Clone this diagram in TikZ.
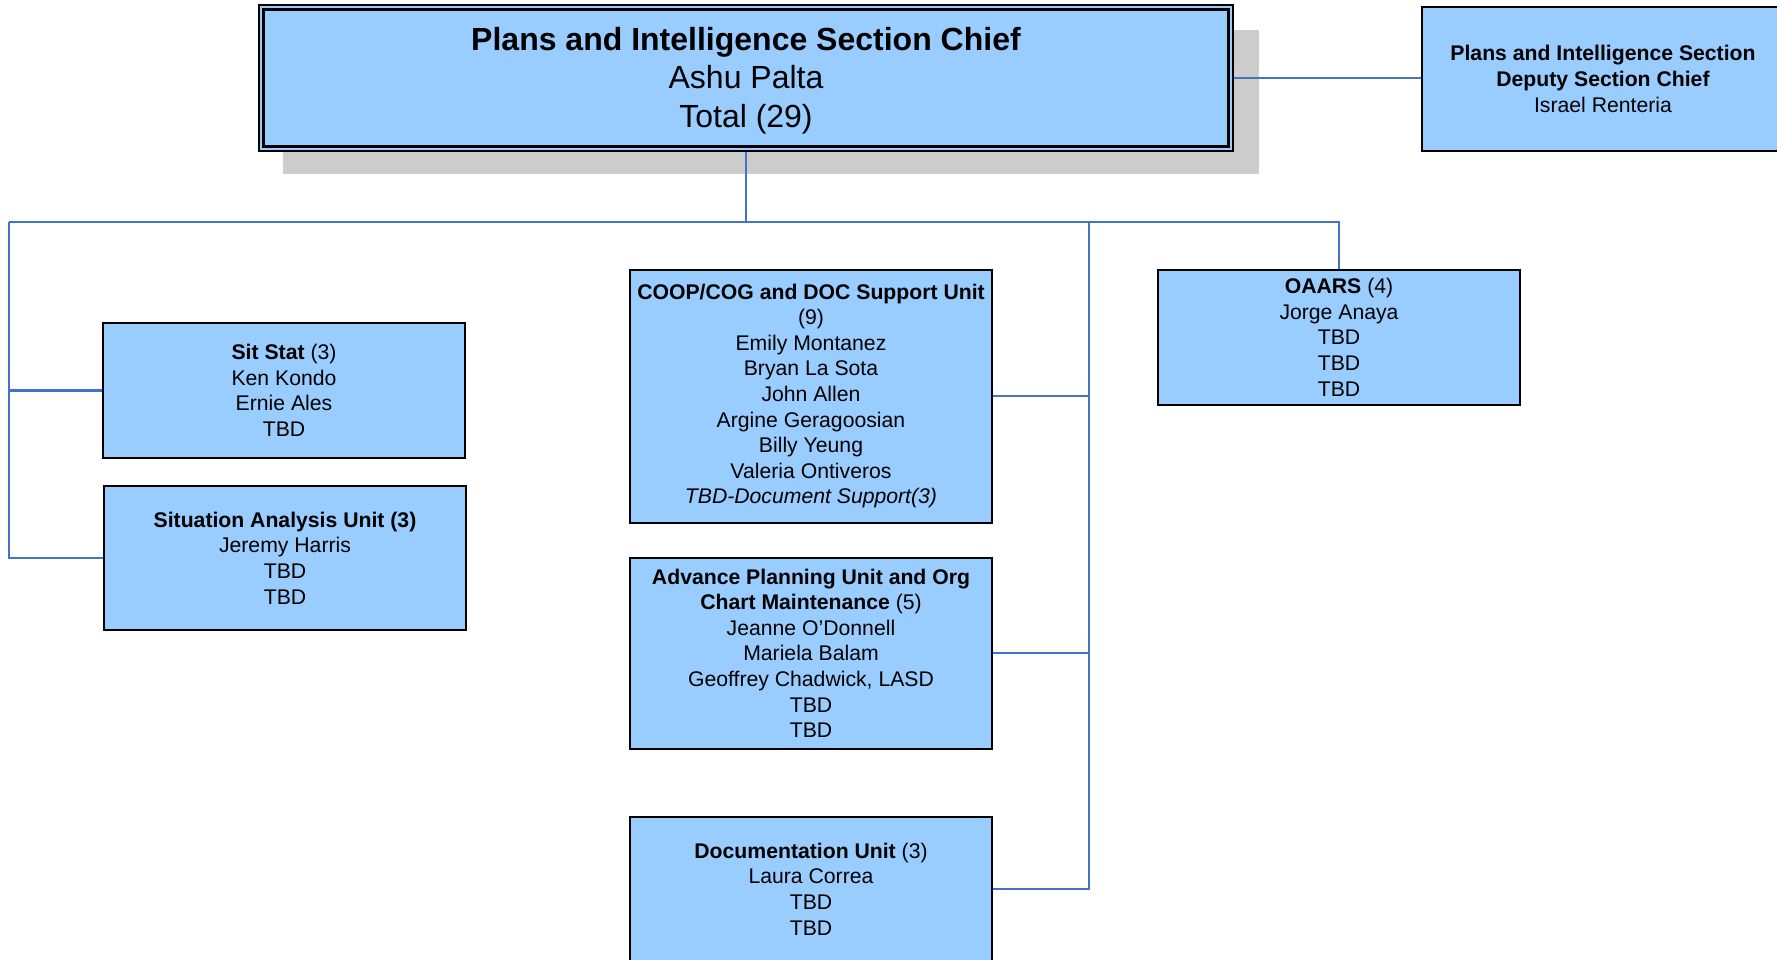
\documentclass[tikz,border=0pt]{standalone}
\usepackage{fontspec}
\setmainfont{Liberation Sans}
\definecolor{boxfill}{HTML}{99CCFF}
\definecolor{linkblue}{HTML}{4472C4}
\definecolor{shadowgray}{HTML}{CCCCCC}
\tikzset{
  unitbox/.style={draw=black, line width=2pt, fill=boxfill, inner sep=0pt,
    minimum width=362pt, align=center,
    font=\fontsize{21.2}{25.6}\selectfont},
  link/.style={draw=linkblue, line width=2.2pt},
}
\begin{document}
\begin{tikzpicture}[x=1pt, y=-1pt]
\useasboundingbox (0,0) rectangle (1777,959);
% shadow of chief box
\fill[shadowgray] (283,30) rectangle (1259,174);
% chief box
\node[draw=black, line width=1.2pt, fill=boxfill, inner sep=0pt,
      minimum width=974pt, minimum height=146pt] (chief) at (746,78) {};
\draw[line width=2.6pt] ([shift={(5,5)}]chief.north west) rectangle ([shift={(-5,-5)}]chief.south east);
\node[inner sep=0pt, align=center, font=\fontsize{32}{38.5}\selectfont] (chieftext) at (746,80.5)
  {\textbf{Plans and Intelligence Section Chief}\\Ashu Palta\\Total (29)};
% deputy
\node[unitbox, minimum height=144pt] (deputy) at (1603,79)
  {\textbf{Plans and Intelligence Section}\\\textbf{Deputy Section Chief}\\Israel Renteria};
% units
\node[unitbox, minimum height=135pt] (sitstat) at (284,390.5)
  {\textbf{Sit Stat} (3)\\Ken Kondo\\Ernie Ales\\TBD};
\node[unitbox, minimum height=144pt] (sau) at (285,558)
  {\textbf{Situation Analysis Unit (3)}\\Jeremy Harris\\TBD\\TBD};
\node[unitbox, minimum height=253pt] (coop) at (811,396)
  {\textbf{COOP/COG and DOC Support Unit}\\(9)\\Emily Montanez\\Bryan La Sota\\John Allen\\Argine Geragoosian\\Billy Yeung\\Valeria Ontiveros\\\textit{TBD-Document Support(3)}};
\node[unitbox, minimum height=191pt] (apu) at (811,653.3)
  {\textbf{Advance Planning Unit and Org}\\\textbf{Chart Maintenance} (5)\\Jeanne O’Donnell\\Mariela Balam\\Geoffrey Chadwick, LASD\\TBD\\TBD};
\node[unitbox, minimum height=144pt] (doc) at (811,889)
  {\textbf{Documentation Unit} (3)\\Laura Correa\\TBD\\TBD};
\node[unitbox, minimum height=135pt] (oaars) at (1339,337.3)
  {\textbf{OAARS} (4)\\Jorge Anaya\\TBD\\TBD\\TBD};
% connectors
\coordinate (busL) at (9,222);
\coordinate (trunk) at (1089,222);
\coordinate (busR) at (oaars.north |- busL);
\draw[link] (chief.east) -- (chief.east -| deputy.west);
\draw[link] (chief.south) -- (chief.south |- busL);
\draw[link] (busL) -- (busR) -- (oaars.north);
\draw[link] (busL) |- (sau.west);
\draw[link] (sitstat.west) -- (sitstat.west -| busL);
\draw[link] (trunk) |- (doc.east);
\draw[link] (coop.east) -- (coop.east -| trunk);
\draw[link] (apu.east) -- (apu.east -| trunk);
\end{tikzpicture}
\end{document}
